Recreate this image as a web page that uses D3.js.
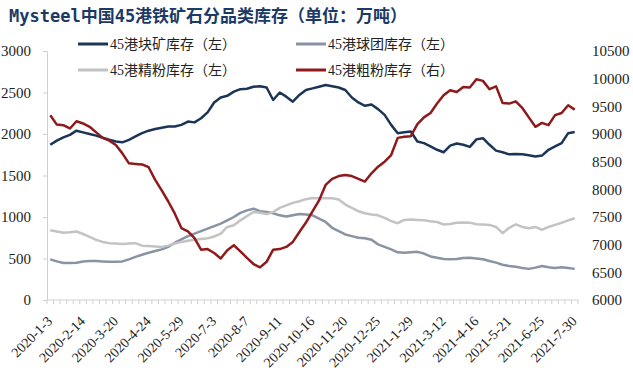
<!DOCTYPE html>
<html><head><meta charset="utf-8">
<script src="https://cdn.jsdelivr.net/npm/d3@7/dist/d3.min.js"></script>
<style>
html,body{margin:0;padding:0;background:#fff;}
svg{display:block;}
</style>
</head><body>
<svg id="chart" width="633" height="379"></svg>
<script>
const categories = ["2020-1-3","2020-1-10","2020-1-17","2020-1-31","2020-2-7","2020-2-14","2020-2-21","2020-2-28","2020-3-6","2020-3-13","2020-3-20",
"2020-3-27","2020-4-3","2020-4-10","2020-4-17","2020-4-24","2020-5-1","2020-5-8","2020-5-15","2020-5-22","2020-5-29",
"2020-6-5","2020-6-12","2020-6-19","2020-6-26","2020-7-3","2020-7-10","2020-7-17","2020-7-24","2020-7-31","2020-8-7",
"2020-8-14","2020-8-21","2020-8-28","2020-9-4","2020-9-11","2020-9-18","2020-9-25","2020-10-2","2020-10-9","2020-10-16",
"2020-10-23","2020-10-30","2020-11-6","2020-11-13","2020-11-20","2020-11-27","2020-12-4","2020-12-11","2020-12-18","2020-12-25",
"2021-1-1","2021-1-8","2021-1-15","2021-1-22","2021-1-29","2021-2-5","2021-2-19","2021-2-26","2021-3-5","2021-3-12",
"2021-3-19","2021-3-26","2021-4-2","2021-4-9","2021-4-16","2021-4-23","2021-4-30","2021-5-7","2021-5-14","2021-5-21",
"2021-5-28","2021-6-4","2021-6-11","2021-6-18","2021-6-25","2021-7-2","2021-7-9","2021-7-16","2021-7-23","2021-7-30"];

const xTickLabels = ["2020-1-3","2020-2-14","2020-3-20","2020-4-24","2020-5-29","2020-7-3","2020-8-7","2020-9-11","2020-10-16",
"2020-11-20","2020-12-25","2021-1-29","2021-3-12","2021-4-16","2021-5-21","2021-6-25","2021-7-30"];

const leftTicks = [0,500,1000,1500,2000,2500,3000];
const rightTicks = [6000,6500,7000,7500,8000,8500,9000,9500,10000,10500];

// 45港块矿库存（左）
const lumpOre = [1870,1920,1960,1990,2040,2020,2000,1980,1955,1930,1910,
1900,1930,1970,2010,2040,2060,2075,2090,2090,2110,
2150,2140,2190,2260,2380,2440,2460,2510,2540,2545,
2570,2575,2560,2410,2500,2450,2390,2470,2530,2550,
2570,2590,2575,2560,2530,2440,2380,2340,2355,2300,
2230,2110,2010,2020,2030,1910,1890,1850,1810,1780,
1860,1885,1870,1845,1935,1950,1870,1800,1780,1755,
1760,1755,1745,1730,1740,1810,1850,1890,2010,2025];

// 45港球团库存（左）
const pellet = [490,465,445,445,450,465,470,470,465,460,460,
465,490,520,545,570,590,610,640,690,730,
770,800,830,860,890,920,960,1000,1050,1080,
1100,1070,1060,1045,1020,1005,1020,1035,1030,1020,
980,940,870,830,790,770,750,745,725,670,
640,610,575,570,575,580,560,525,510,495,
490,495,505,510,500,490,470,450,425,410,
400,385,375,390,410,395,385,395,385,375];

// 45港精粉库存（左）
const concentrate = [840,825,810,815,825,795,760,725,700,685,680,
675,680,685,655,650,645,640,655,680,700,
715,725,735,745,765,800,880,900,960,1010,
1060,1050,1035,1060,1110,1140,1170,1190,1215,1230,
1225,1225,1225,1210,1150,1110,1070,1045,1030,1020,
990,950,925,965,970,965,960,950,940,910,
915,930,935,932,912,910,905,880,805,870,
912,880,865,880,845,880,905,930,960,985];

// 45港粗粉库存（右）
const fines = [9340,9170,9160,9100,9230,9190,9130,9030,8930,8880,8800,
8650,8470,8460,8450,8400,8170,7980,7780,7560,7300,
7240,7120,6910,6920,6850,6750,6900,6990,6880,6760,
6650,6590,6690,6910,6920,6960,7050,7230,7400,7600,
7800,8080,8190,8240,8260,8240,8190,8140,8290,8410,
8500,8620,8930,8950,8960,9180,9300,9380,9550,9700,
9790,9760,9850,9840,9990,9960,9810,9860,9560,9550,
9590,9470,9300,9130,9200,9160,9340,9380,9520,9440];

const series = [
  {name:"45港块矿库存（左）", values: lumpOre, axis:"L", color:"#1c3557"},
  {name:"45港球团库存（左）", values: pellet, axis:"L", color:"#8a93a3"},
  {name:"45港精粉库存（左）", values: concentrate, axis:"L", color:"#c3c3c3"},
  {name:"45港粗粉库存（右）", values: fines, axis:"R", color:"#8f1a1c"}
];

const svg = d3.select("#chart");
const mLeft = 47, mRight = 578, mTop = 51, mBottom = 300;
const serif = "'Liberation Serif','Times New Roman','Noto Sans CJK SC',serif";

const x = d3.scaleBand().domain(categories).range([mLeft, mRight]).padding(0);
const yL = d3.scaleLinear().domain([0,3000]).range([mBottom, mTop]);
const yR = d3.scaleLinear().domain([6000,10500]).range([mBottom, mTop]);
const cx = d => x(d) + x.bandwidth()/2;

// Title
svg.append("text").attr("x", 9).attr("y", 22)
  .attr("font-family", "'DejaVu Sans Mono','Noto Sans CJK SC',monospace")
  .attr("font-weight", "bold").attr("font-size", 17).attr("fill", "#1b3a66")
  .text("Mysteel中国45港铁矿石分品类库存（单位：万吨）");

// Left axis
const gL = svg.append("g").attr("transform", `translate(${mLeft},0)`)
  .call(d3.axisLeft(yL).tickValues(leftTicks).tickSize(4).tickPadding(12).tickFormat(d3.format("d")));
gL.select(".domain").attr("stroke", "#d0d0d0");
gL.selectAll(".tick line").attr("stroke", "#d0d0d0");
gL.selectAll("text").attr("font-family", serif).attr("font-size", 15).attr("fill", "#222");

// Right axis
const gR = svg.append("g").attr("transform", `translate(${mRight},0)`)
  .call(d3.axisRight(yR).tickValues(rightTicks).tickSize(0).tickPadding(14).tickFormat(d3.format("d")));
gR.select(".domain").remove();
gR.selectAll("text").attr("font-family", serif).attr("font-size", 15).attr("fill", "#222");

// X axis
const gX = svg.append("g").attr("transform", `translate(0,${mBottom})`);
gX.append("line").attr("x1", mLeft).attr("x2", mRight).attr("y1", 0).attr("y2", 0).attr("stroke", "#d0d0d0");
const boundaries = categories.map(c => x(c)).concat([mRight]);
gX.selectAll("line.tk").data(boundaries).enter().append("line").attr("class","tk")
  .attr("x1", d => d).attr("x2", d => d).attr("y1", 0).attr("y2", 4).attr("stroke", "#d0d0d0");
gX.selectAll("text.xl").data(xTickLabels).enter().append("text").attr("class","xl")
  .attr("transform", d => `translate(${cx(d)+3},${22}) rotate(-45)`)
  .attr("text-anchor", "end")
  .attr("font-family", serif).attr("font-size", 14).attr("fill", "#222")
  .text(d => d);

// Lines
series.forEach(s => {
  const y = s.axis === "L" ? yL : yR;
  const line = d3.line().x((d,i) => cx(categories[i])).y(d => y(d));
  svg.append("path").datum(s.values).attr("d", line)
    .attr("fill", "none").attr("stroke", s.color).attr("stroke-width", 2.5)
    .attr("stroke-linejoin", "round");
});

// Legend
const legendPos = [
  {s: series[0], x: 78, y: 44},
  {s: series[1], x: 296, y: 44},
  {s: series[2], x: 78, y: 70},
  {s: series[3], x: 296, y: 70}
];
legendPos.forEach(p => {
  svg.append("line").attr("x1", p.x).attr("x2", p.x + 30).attr("y1", p.y).attr("y2", p.y)
    .attr("stroke", p.s.color).attr("stroke-width", 3);
  svg.append("text").attr("x", p.x + 32).attr("y", p.y + 5)
    .attr("font-family", serif).attr("font-size", 14).attr("fill", "#222")
    .text(p.s.name);
});
</script>
</body></html>
